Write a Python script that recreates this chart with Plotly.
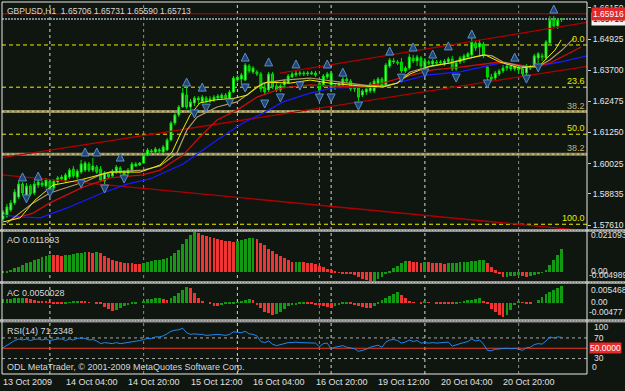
import plotly.graph_objects as go

W, H = 625, 391
BG = "#0f150f"
FONT = "Liberation Sans"

# ---------------- data ----------------
opens = [1.5785,1.5796,1.5820,1.5848,1.5871,1.5922,1.5875,1.5914,1.5887,1.5918,1.5926,1.5914,1.5934,1.5907,1.5930,1.5942,
         1.5934,1.5950,1.5981,1.5950,1.5969,1.5977,1.6001,1.5977,1.5989,1.5981,1.5934,1.5962,1.5954,1.5969,1.5985,1.5969,
         1.5966,1.5977,1.5993,1.5997,1.6005,1.6036,1.6048,1.6048,1.6052,1.6048,1.6056,1.6095,1.6162,1.6194,1.6225,1.6272,
         1.6225,1.6241,1.6253,1.6245,1.6260,1.6249,1.6253,1.6260,1.6260,1.6272,1.6260,1.6284,1.6331,1.6335,1.6331,1.6386,
         1.6363,1.6363,1.6355,1.6300,1.6292,1.6355,1.6308,1.6292,1.6312,1.6319,1.6343,1.6351,1.6355,1.6359,1.6355,1.6355,
         1.6359,1.6319,1.6312,1.6343,1.6300,1.6308,1.6308,1.6312,1.6335,1.6327,1.6308,1.6300,1.6272,1.6284,1.6288,1.6288,
         1.6316,1.6335,1.6312,1.6386,1.6402,1.6402,1.6402,1.6367,1.6378,1.6418,1.6406,1.6418,1.6382,1.6402,1.6394,1.6402,
         1.6398,1.6394,1.6402,1.6414,1.6375,1.6402,1.6410,1.6422,1.6430,1.6477,1.6461,1.6473,1.6382,1.6343,1.6339,1.6355,
         1.6367,1.6378,1.6386,1.6375,1.6382,1.6375,1.6359,1.6382,1.6390,1.6418,1.6426,1.6418,1.6477,1.6571,1.6544,1.65706]
highs = [1.5820,1.5844,1.5859,1.5903,1.5934,1.5930,1.5926,1.5922,1.5934,1.5938,1.5934,1.5946,1.5942,1.5942,1.5954,1.5958,
         1.5966,1.5985,1.5993,1.5981,1.6017,1.6012,1.6009,1.6025,1.5997,1.5993,1.5973,1.5969,1.5981,1.5997,1.5993,1.5977,
         1.5985,1.6009,1.6009,1.6009,1.6044,1.6064,1.6060,1.6068,1.6064,1.6076,1.6103,1.6170,1.6201,1.6233,1.6300,1.6300,
         1.6257,1.6268,1.6268,1.6272,1.6268,1.6268,1.6272,1.6276,1.6280,1.6280,1.6292,1.6347,1.6351,1.6359,1.6398,1.6394,
         1.6386,1.6371,1.6363,1.6316,1.6363,1.6363,1.6319,1.6316,1.6335,1.6355,1.6363,1.6367,1.6367,1.6367,1.6367,1.6367,
         1.6367,1.6327,1.6355,1.6363,1.6367,1.6316,1.6323,1.6343,1.6343,1.6335,1.6316,1.6308,1.6296,1.6304,1.6323,1.6335,
         1.6343,1.6343,1.6398,1.6418,1.6418,1.6410,1.6418,1.6386,1.6434,1.6430,1.6430,1.6426,1.6418,1.6410,1.6414,1.6410,
         1.6410,1.6414,1.6422,1.6426,1.6410,1.6426,1.6434,1.6441,1.6496,1.6485,1.6489,1.6481,1.6390,1.6355,1.6367,1.6375,
         1.6390,1.6398,1.6394,1.6394,1.6390,1.6382,1.6394,1.6390,1.6434,1.6441,1.6437,1.6489,1.6583,1.6583,1.6575,1.65731]
lows = [1.5777,1.5789,1.5812,1.5840,1.5863,1.5879,1.5867,1.5875,1.5879,1.5907,1.5910,1.5907,1.5895,1.5899,1.5922,1.5934,
        1.5926,1.5942,1.5946,1.5942,1.5962,1.5969,1.5969,1.5969,1.5962,1.5930,1.5918,1.5942,1.5946,1.5962,1.5962,1.5950,
        1.5958,1.5969,1.5989,1.5993,1.6001,1.6032,1.6040,1.6044,1.6044,1.6044,1.6052,1.6091,1.6154,1.6186,1.6221,1.6217,
        1.6205,1.6229,1.6237,1.6241,1.6241,1.6241,1.6245,1.6253,1.6257,1.6253,1.6257,1.6280,1.6323,1.6316,1.6327,1.6359,
        1.6355,1.6347,1.6284,1.6272,1.6284,1.6296,1.6284,1.6284,1.6304,1.6316,1.6339,1.6343,1.6347,1.6347,1.6347,1.6351,
        1.6343,1.6276,1.6304,1.6335,1.6288,1.6292,1.6300,1.6308,1.6319,1.6288,1.6284,1.6241,1.6264,1.6272,1.6280,1.6280,
        1.6308,1.6300,1.6304,1.6378,1.6394,1.6390,1.6359,1.6359,1.6371,1.6398,1.6386,1.6378,1.6375,1.6390,1.6386,1.6390,
        1.6390,1.6386,1.6394,1.6367,1.6367,1.6394,1.6398,1.6414,1.6422,1.6445,1.6426,1.6418,1.6331,1.6323,1.6331,1.6347,
        1.6359,1.6367,1.6367,1.6367,1.6359,1.6347,1.6351,1.6371,1.6382,1.6398,1.6406,1.6410,1.6469,1.6536,1.6532,1.65590]
closes = [1.5812,1.5832,1.5848,1.5891,1.5922,1.5887,1.5914,1.5883,1.5922,1.5930,1.5918,1.5938,1.5903,1.5934,1.5946,1.5950,
          1.5958,1.5977,1.5954,1.5973,1.6001,1.6005,1.5977,1.5993,1.5969,1.5938,1.5966,1.5950,1.5973,1.5989,1.5969,1.5958,
          1.5977,1.6001,1.6001,1.6005,1.6036,1.6056,1.6052,1.6060,1.6056,1.6068,1.6095,1.6162,1.6194,1.6225,1.6280,1.6225,
          1.6245,1.6260,1.6260,1.6264,1.6249,1.6257,1.6264,1.6268,1.6272,1.6260,1.6284,1.6339,1.6343,1.6351,1.6390,1.6367,
          1.6378,1.6355,1.6296,1.6284,1.6355,1.6304,1.6292,1.6308,1.6327,1.6347,1.6355,1.6359,1.6359,1.6355,1.6359,1.6359,
          1.6351,1.6288,1.6347,1.6355,1.6359,1.6300,1.6316,1.6335,1.6327,1.6296,1.6296,1.6264,1.6288,1.6296,1.6316,1.6327,
          1.6335,1.6308,1.6390,1.6410,1.6406,1.6398,1.6367,1.6378,1.6422,1.6406,1.6422,1.6386,1.6406,1.6398,1.6406,1.6398,
          1.6402,1.6406,1.6414,1.6375,1.6398,1.6418,1.6426,1.6434,1.6481,1.6457,1.6477,1.6426,1.6343,1.6335,1.6359,1.6367,
          1.6378,1.6386,1.6375,1.6386,1.6371,1.6355,1.6386,1.6378,1.6426,1.6434,1.6422,1.6481,1.6567,1.6544,1.6567,1.65713]

ao = [0.0002,0.0006,0.0012,0.0020,0.0029,0.0038,0.0047,0.0055,0.0063,0.0070,0.0078,0.0085,0.0092,0.0090,0.0088,0.0086,
      0.0088,0.0092,0.0095,0.0098,0.0102,0.0106,0.0104,0.0101,0.0105,0.0098,0.0085,0.0073,0.0064,0.0056,0.0051,0.0048,
      0.0046,0.0045,0.0044,0.0043,0.0050,0.0053,0.0057,0.0062,0.0066,0.0071,0.0076,0.0084,0.0098,0.0115,0.0150,0.0175,
      0.0196,0.0211,0.0206,0.0195,0.0188,0.0182,0.0178,0.0175,0.0170,0.0166,0.0162,0.0158,0.0162,0.0168,0.0173,0.0177,
      0.0180,0.0172,0.0155,0.0140,0.0124,0.0110,0.0095,0.0082,0.0073,0.0064,0.0051,0.0054,0.0055,0.0052,0.0050,0.0048,
      0.0044,0.0032,0.0025,0.0016,0.0010,0.0003,-0.0002,-0.0006,-0.0009,-0.0012,-0.0017,-0.0024,-0.0036,-0.0042,-0.0050,-0.0046,
      -0.0036,-0.0024,-0.0010,0.0006,0.0020,0.0033,0.0045,0.0059,0.0056,0.0054,0.0052,0.0050,0.0055,0.0053,0.0050,0.0048,
      0.0046,0.0044,0.0045,0.0047,0.0049,0.0051,0.0053,0.0055,0.0058,0.0060,0.0062,0.0064,0.0046,0.0029,0.0010,-0.0008,
      -0.0026,-0.0024,-0.0022,-0.0020,-0.0017,-0.0020,-0.0024,-0.0020,-0.0015,-0.0009,-0.0002,0.0013,0.0036,0.0063,0.0090,0.011893]

ac = [0.0010,0.0011,0.0012,0.0013,0.0014,0.0015,0.0013,0.0010,0.0007,0.0005,0.0004,0.0003,0.0002,-0.0001,-0.0003,-0.0004,
      -0.0002,0.0001,0.0004,0.0006,0.0005,0.0004,0.0002,0.0000,-0.0001,-0.0005,-0.0012,-0.0018,-0.0023,-0.0022,-0.0016,-0.0011,
      -0.0007,-0.0004,-0.0002,0.0000,0.0006,0.0010,0.0012,0.0014,0.0015,0.0010,0.0008,0.0014,0.0020,0.0027,0.0036,0.0045,
      0.0042,0.0027,0.0013,0.0005,0.0000,-0.0004,-0.0009,-0.0011,-0.0008,-0.0005,-0.0003,-0.0001,0.0002,0.0004,0.0008,0.0012,
      0.0009,-0.0007,-0.0016,-0.0026,-0.0031,-0.0036,-0.0032,-0.0026,-0.0017,-0.0011,-0.0008,-0.0006,-0.0005,-0.0003,-0.0004,-0.0005,
      -0.0006,-0.0007,-0.0010,-0.0013,-0.0016,-0.0010,-0.0006,-0.0003,-0.0001,-0.0004,-0.0008,-0.0011,-0.0014,-0.0015,-0.0016,-0.0011,
      -0.0004,0.0008,0.0013,0.0020,0.0026,0.0030,0.0022,0.0013,0.0005,0.0001,0.0000,-0.0001,0.0003,0.0002,0.0000,-0.0002,
      -0.0003,-0.00035,-0.0004,-0.00045,-0.0002,0.0001,0.0004,0.0007,0.0009,0.0011,0.0013,0.0004,-0.0005,-0.0017,-0.0026,-0.0036,
      -0.0043,-0.0035,-0.0020,-0.0006,0.0003,0.0001,-0.0003,-0.0004,0.0000,0.0009,0.0017,0.0025,0.0032,0.0038,0.0044,0.0050028]

rsi = [51,56,61,65,68,66,68,65,67,68,66,68,65,67,68,68,65,68,66,69,70,69,66,67,64,59,61,60,59,61,59,60,
       61,63,64,65,67,69,69,72,72,74,78,83,85,86,89,80,77,78,77,77,75,76,76,77,76,75,77,82,81,80,83,78,
       77,74,63,61,64,58,55,57,59,61,61,62,61,61,61,61,60,53,59,60,49,52,53,55,52,50,49,44,46,48,52,54,
       56,52,62,66,67,65,60,62,66,63,65,60,61,60,61,60,61,62,62,54,57,59,61,63,68,64,66,58,46,45,48,49,
       50,50,49,50,48,46,51,52,57,59,58,64,72,70,72,71.2348]

# Alligator-type moving averages (bar index, price)
lips_x = [1.0,4.4,7.7,12.0,16.4,21.5,24.8,27.4,35.8,40.2,44.5,47.1,49.7,54.8,59.9,63.2,66.6,71.7,78.6,86.3,94.0,97.8,
          100.9,104.2,108.6,114.4,119.6,122.9,125.2,128.0,132.4,136.7,140.0,143.1,146.2]
lips_y = [1.5769,1.5808,1.5848,1.5887,1.5910,1.5934,1.5958,1.5969,1.5977,1.5993,1.6044,1.6135,1.6186,1.6225,1.6245,1.6280,
          1.6319,1.6331,1.6339,1.6323,1.6308,1.6308,1.6319,1.6363,1.6382,1.6398,1.6418,1.6430,1.6426,1.6402,1.6386,1.6382,
          1.6410,1.6449,1.6496]
fast_x = [0,4.4,8.2,12.8,19.7,27.4,35.1,40.2,43.3,45.3,47.9,50.4,54.3,59.4,62.5,65.0,67.6,73.5,78.6,83.7,91.4,97.3,
          100.9,104.2,109.3,114.4,119.6,123.4,127.2,132.4,137.5,141.3,142.9]
fast_y = [1.5773,1.5789,1.5859,1.5918,1.5938,1.5969,1.5969,1.5997,1.6048,1.6115,1.6194,1.6241,1.6253,1.6260,1.6272,1.6304,
          1.6323,1.6319,1.6331,1.6319,1.6308,1.6304,1.6319,1.6355,1.6386,1.6398,1.6418,1.6430,1.6402,1.6378,1.6390,1.6449,
          1.6489]
teeth_x = [1.8,7.7,12.0,20.5,27.4,35.8,40.2,46.1,50.4,54.8,59.9,65.0,71.7,78.6,83.7,90.6,96.5,101.6,110.1,117.0,127.2,
           132.4,135.7,140.0,143.1,146.4,148.0]
teeth_y = [1.5781,1.5808,1.5848,1.5910,1.5946,1.5958,1.5977,1.6036,1.6107,1.6174,1.6213,1.6264,1.6300,1.6312,1.6308,1.6304,
           1.6316,1.6339,1.6371,1.6382,1.6402,1.6390,1.6382,1.6398,1.6422,1.6449,1.6461]
jaw_x = [0,4.4,9.5,16.4,24.8,31.7,37.6,46.1,54.8,61.4,66.6,71.7,78.6,84.5,97.3,108.6,117.0,127.2,135.7,142.6,149.5]
jaw_y = [1.5800,1.5793,1.5789,1.5828,1.5883,1.5922,1.5942,1.6001,1.6095,1.6162,1.6201,1.6245,1.6280,1.6300,1.6304,1.6351,
         1.6363,1.6398,1.6382,1.6402,1.6426]

# fractals
frac_up_x = [5,9,21,24,30,47,51,62,68,75,83,87,99,105,110,114,120,131,141]
frac_up_y = [1.5966,1.5969,1.6064,1.6064,1.6044,1.6339,1.6319,1.6437,1.6418,1.6410,1.6410,1.6378,1.6461,1.6477,1.6449,
             1.6481,1.6528,1.6437,1.6626]
frac_dn_x = [6,12,20,26,31,49,52,58,62,67,71,76,81,84,91,102,108,116,124,134,137]
frac_dn_y = [1.5848,1.5871,1.5907,1.5887,1.5926,1.6182,1.6205,1.6225,1.6284,1.6221,1.6245,1.6292,1.6245,1.6245,1.6213,
             1.6323,1.6343,1.6323,1.6300,1.6319,1.6363]

# trend lines (bar index, price)
chan_low_x, chan_low_y = [-0.26, 149.5], [1.6026, 1.6385]
chan_up_x, chan_up_y = [70.9, 149.5], [1.6358, 1.6558]
trend_dn_x, trend_dn_y = [-0.26, 149.5], [1.5958, 1.5738]

# fibonacci levels
fib_levels = [1.6469, 1.6303, 1.6207, 1.6118, 1.6039, 1.5764]
fib_labels = ["0.0", "23.6", "38.2", "50.0", "38.2", "100.0"]
fib_kind = ["dash", "dash", "solid", "dash", "solid", "dash"]

price_ticks = [1.66150, 1.64925, 1.63700, 1.62475, 1.61250, 1.60025, 1.58835, 1.57610]
red_line_price = 1.65916
bid_price = 1.65713

time_label_bars = [0, 16, 32, 48, 64, 80, 96, 112, 128]
time_labels = ["13 Oct 2009", "14 Oct 04:00", "14 Oct 20:00", "15 Oct 12:00", "16 Oct 04:00",
               "16 Oct 20:00", "19 Oct 12:00", "20 Oct 04:00", "20 Oct 20:00"]
sep_bars = [12, 36, 60, 81, 84, 108, 132]
sep_bright = [True, False, True, False, True, True, False]

bars = list(range(len(closes)))

# ---------------- helpers ----------------
def py(px):
    return 1 - px / H

def pxr(px):
    return px / W

X0, X1 = 2, 587
XR = [-0.26, 149.5]

fig = go.Figure()

# trend lines
for tx, ty in [(chan_low_x, chan_low_y), (chan_up_x, chan_up_y), (trend_dn_x, trend_dn_y)]:
    fig.add_trace(go.Scatter(x=tx, y=ty, mode="lines", line=dict(color="#b00000", width=1.3),
                             hoverinfo="skip", xaxis="x", yaxis="y"))

# candles
fig.add_trace(go.Candlestick(
    x=bars, open=opens, high=highs, low=lows, close=closes,
    increasing=dict(line=dict(color="#00e000", width=1), fillcolor="#8cff8c"),
    decreasing=dict(line=dict(color="#00e000", width=1), fillcolor="#00b400"),
    whiskerwidth=0, hoverinfo="skip", xaxis="x", yaxis="y"))

# moving averages
fig.add_trace(go.Scatter(x=jaw_x, y=jaw_y, mode="lines", line=dict(color="#1a1aff", width=1.3),
                         hoverinfo="skip", xaxis="x", yaxis="y"))
fig.add_trace(go.Scatter(x=teeth_x, y=teeth_y, mode="lines", line=dict(color="#c80e0e", width=1.3),
                         hoverinfo="skip", xaxis="x", yaxis="y"))
fig.add_trace(go.Scatter(x=lips_x, y=lips_y, mode="lines", line=dict(color="#b09a6a", width=1.2),
                         hoverinfo="skip", xaxis="x", yaxis="y"))
fig.add_trace(go.Scatter(x=fast_x, y=fast_y, mode="lines", line=dict(color="#f0f000", width=1),
                         hoverinfo="skip", xaxis="x", yaxis="y"))

# fractals
fig.add_trace(go.Scatter(x=frac_up_x, y=frac_up_y, mode="markers",
                         marker=dict(symbol="arrow-up", size=8, color="#1f4676", line=dict(color="#5c8cc4", width=1)),
                         hoverinfo="skip", xaxis="x", yaxis="y"))
fig.add_trace(go.Scatter(x=frac_dn_x, y=frac_dn_y, mode="markers",
                         marker=dict(symbol="arrow-down", size=8, color="#1f4676", line=dict(color="#5c8cc4", width=1)),
                         hoverinfo="skip", xaxis="x", yaxis="y"))

# AO
GREEN, RED = "#139a13", "#f03434"
ao_colors = [GREEN] + [GREEN if ao[i] > ao[i - 1] else RED for i in range(1, len(ao))]
fig.add_trace(go.Bar(x=bars, y=ao, marker=dict(color=ao_colors, line=dict(width=0)), width=0.72,
                     hoverinfo="skip", xaxis="x2", yaxis="y2"))
# AC
ac_colors = [GREEN] + [GREEN if ac[i] > ac[i - 1] else RED for i in range(1, len(ac))]
fig.add_trace(go.Bar(x=bars, y=ac, marker=dict(color=ac_colors, line=dict(width=0)), width=0.72,
                     hoverinfo="skip", xaxis="x3", yaxis="y3"))
# RSI
fig.add_trace(go.Scatter(x=bars, y=rsi, mode="lines", line=dict(color="#2088f0", width=1),
                         hoverinfo="skip", xaxis="x4", yaxis="y4"))

# ---------------- shapes ----------------
shapes = []
for b, bright in zip(sep_bars, sep_bright):
    shapes.append(dict(type="line", xref="x", yref="paper", x0=b, x1=b, y0=py(374), y1=py(2),
                       line=dict(color="#d8d8d8" if bright else "#8c8c8c", width=1, dash="3px,3px"), layer="below"))
for lvl, kind in zip(fib_levels, fib_kind):
    if kind == "dash":
        shapes.append(dict(type="line", xref="paper", yref="y", x0=pxr(X0), x1=pxr(X1), y0=lvl, y1=lvl,
                           line=dict(color="#f0f000", width=1, dash="4px,3px"), layer="below"))
    else:
        shapes.append(dict(type="line", xref="paper", yref="y", x0=pxr(X0), x1=pxr(X1), y0=lvl, y1=lvl,
                           line=dict(color="#8f8a58", width=3), layer="below"))
        shapes.append(dict(type="line", xref="paper", yref="y", x0=pxr(X0), x1=pxr(X1), y0=lvl, y1=lvl,
                           line=dict(color="#c9bc80", width=1.5, dash="2px,3px"), layer="below"))
shapes.append(dict(type="line", xref="paper", yref="y", x0=pxr(X0), x1=pxr(X1), y0=red_line_price, y1=red_line_price,
                   line=dict(color="#a01414", width=1), layer="below"))
shapes.append(dict(type="line", xref="paper", yref="y", x0=pxr(X0), x1=pxr(X1), y0=bid_price, y1=bid_price,
                   line=dict(color="#7c8a98", width=2, dash="2px,1px"), layer="below"))
for lv in [70, 30]:
    shapes.append(dict(type="line", xref="paper", yref="y4", x0=pxr(X0), x1=pxr(X1), y0=lv, y1=lv,
                       line=dict(color="#a8a8a8", width=1, dash="3px,3px"), layer="below"))
shapes.append(dict(type="line", xref="paper", yref="y4", x0=pxr(X0), x1=pxr(X1), y0=50, y1=50,
                   line=dict(color="#f03a22", width=1.2), layer="below"))
for a, b in [(229, 232), (281, 284), (319, 322.5)]:
    shapes.append(dict(type="rect", xref="paper", yref="paper", x0=0, x1=1, y0=py(b), y1=py(a),
                       fillcolor="#8e8e8e", line=dict(width=0), layer="above"))
    shapes.append(dict(type="line", xref="paper", yref="paper", x0=0, x1=1, y0=py((a + b) / 2), y1=py((a + b) / 2),
                       line=dict(color="#c8c8c8", width=1, dash="1px,2px"), layer="above"))
shapes.append(dict(type="rect", xref="paper", yref="paper", x0=pxr(X0), x1=pxr(X1), y0=py(374), y1=py(2),
                   line=dict(color="#e8e8e8", width=1), fillcolor="rgba(0,0,0,0)", layer="above"))

# ---------------- annotations ----------------
def ann(text, xpx, ypx, color, size=9, xanchor="left", bgcolor=None):
    d = dict(text=text, x=pxr(xpx), y=py(ypx), xref="paper", yref="paper", showarrow=False,
             xanchor=xanchor, yanchor="middle", font=dict(family=FONT, size=size, color=color), borderpad=0)
    if bgcolor:
        d["bgcolor"] = bgcolor
    return d

anns = []
anns.append(ann("GBPUSD,H1  1.65706 1.65731 1.65590 1.65713", 6, 11, "#d8d8d8", 8.5))
anns.append(ann("AO 0.011893", 6, 240, "#d8d8d8"))
anns.append(ann("AC 0.0050028", 6, 293, "#d8d8d8"))
anns.append(ann("RSI(14) 71.2348", 6, 331, "#d8d8d8"))
anns.append(ann("ODL MetaTrader, © 2001-2009 MetaQuotes Software Corp.", 6, 367, "#d8d8d8"))

for lvl, lab, kind in zip(fib_levels, fib_labels, fib_kind):
    anns.append(dict(text=lab, x=pxr(586), xref="paper", y=lvl, yref="y", yanchor="bottom", xanchor="right",
                     showarrow=False, font=dict(family=FONT, size=9, color="#e8e800" if kind == "dash" else "#c2b47c"),
                     borderpad=0))

anns.append(dict(text=f"{bid_price:.5f}", x=pxr(591), xref="paper", y=bid_price, yref="y", xanchor="left",
                 yanchor="middle", showarrow=False, bgcolor="#f4f4f4", font=dict(family=FONT, size=8.5, color="#202020"),
                 borderpad=1))
anns.append(dict(text=f"{red_line_price:.5f}", x=pxr(591), xref="paper", y=red_line_price, yref="y", xanchor="left",
                 yanchor="middle", showarrow=False, bgcolor="#e02828", font=dict(family=FONT, size=8.5, color="#ffffff"),
                 borderpad=1))

AX = "#e0e0e0"
anns.append(ann("0.021093", 590, 235, AX, 8.5))
anns.append(ann("0.00", 590, 270.5, AX, 8.5))
anns.append(ann("-0.004989", 588, 275, AX, 8.5))
anns.append(ann("0.005468", 590, 290, AX, 8.5))
anns.append(ann("0.00", 590, 301.7, AX, 8.5))
anns.append(ann("-0.00477", 588, 311.7, AX, 8.5))
anns.append(ann("100", 593, 327, AX, 8.5))
anns.append(ann("70", 593, 338, AX, 8.5))
anns.append(ann("30", 593, 358.3, AX, 8.5))
anns.append(ann("0", 591, 367, AX, 8.5))
anns.append(ann("50.0000", 589, 347.7, "#ffffff", 8.5, bgcolor="#e82a2a"))

for b, lab in zip(time_label_bars, time_labels):
    anns.append(dict(text=lab, x=b, xref="x", xshift=-1, y=py(382), yref="paper", xanchor="left", yanchor="middle",
                     showarrow=False, font=dict(family=FONT, size=9, color="#e0e0e0"), borderpad=0))

# ---------------- layout ----------------
def xax(anchor):
    return dict(domain=[pxr(X0), pxr(X1)], range=XR, anchor=anchor, showgrid=False, zeroline=False,
                showticklabels=False, ticks="", showline=False, fixedrange=True, automargin=False,
                rangeslider=dict(visible=False))

def yax(dom, rng, anchor, **kw):
    d = dict(domain=dom, range=rng, anchor=anchor, showgrid=False, zeroline=False, showline=False,
             showticklabels=False, ticks="", fixedrange=True, automargin=False)
    d.update(kw)
    return d

fig.update_layout(
    width=W, height=H, autosize=False,
    margin=dict(l=0, r=0, t=0, b=0, pad=0),
    paper_bgcolor=BG, plot_bgcolor="rgba(0,0,0,0)",
    showlegend=False, bargap=0, template="none",
    xaxis=xax("y"), xaxis2=xax("y2"), xaxis3=xax("y3"), xaxis4=xax("y4"),
    yaxis=yax([py(229), py(2)], [1.574533, 1.663799], "x", side="right", showticklabels=True,
              tickvals=price_ticks, ticktext=[f"{v:.5f}" for v in price_ticks], ticks="outside",
              ticklen=3, tickcolor="#c8c8c8", tickfont=dict(family=FONT, size=8.5, color="#e8e8e8")),
    yaxis2=yax([py(281), py(231.5)], [-0.004989, 0.021093], "x2"),
    yaxis3=yax([py(319), py(284)], [-0.00477, 0.005468], "x3"),
    yaxis4=yax([py(374), py(322.5)], [0, 100], "x4"),
    shapes=shapes, annotations=anns,
)

fig.write_html("out.html")
